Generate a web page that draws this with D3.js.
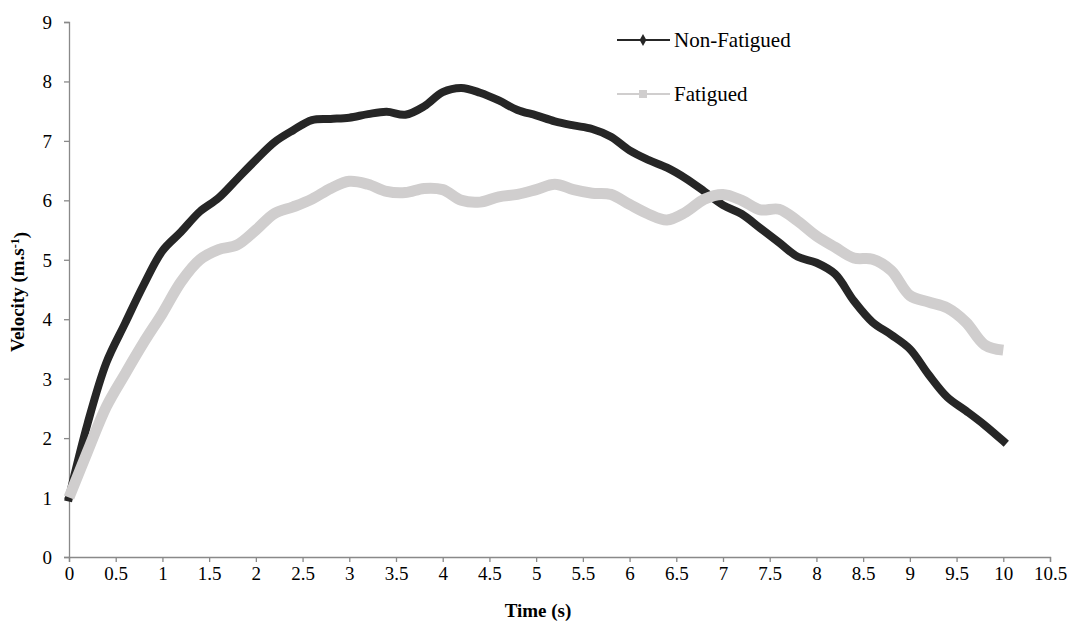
<!DOCTYPE html>
<html>
<head>
  <meta charset="utf-8">
  <script src="https://d3js.org/d3.v7.min.js"></script>
  <style>
    body { margin: 0; background: #fff; }
    svg text { font-family: "Times New Roman", Times, "Liberation Serif", Tinos, "DejaVu Serif", serif; fill: #000; }
  </style>
</head>
<body>
<script>
  var serif = "'Times New Roman', Times, 'Liberation Serif', Tinos, 'DejaVu Serif', serif";

  // time samples (s), every 0.2 s
  var times = d3.range(0, 51).map(function (i) { return +(i * 0.2).toFixed(1); });

  var nonFatigued = [1.00, 2.25, 3.27, 3.93, 4.58, 5.15, 5.47, 5.81, 6.04, 6.36,
    6.68, 6.98, 7.18, 7.35, 7.37, 7.39, 7.45, 7.49, 7.44, 7.58,
    7.82, 7.89, 7.81, 7.68, 7.52, 7.43, 7.33, 7.26, 7.20, 7.07,
    6.84, 6.68, 6.55, 6.37, 6.15, 5.92, 5.77, 5.53, 5.29, 5.05,
    4.95, 4.76, 4.31, 3.95, 3.74, 3.50, 3.07, 2.69, 2.46, 2.22, 1.95];

  var fatigued = [1.00, 1.78, 2.53, 3.08, 3.61, 4.10, 4.63, 5.00, 5.17, 5.25,
    5.50, 5.78, 5.89, 6.02, 6.20, 6.32, 6.27, 6.15, 6.13, 6.20,
    6.18, 6.00, 5.97, 6.06, 6.10, 6.18, 6.27, 6.18, 6.12, 6.10,
    5.93, 5.77, 5.67, 5.80, 6.02, 6.10, 6.00, 5.84, 5.85, 5.65,
    5.40, 5.21, 5.03, 5.01, 4.82, 4.40, 4.29, 4.19, 3.95, 3.57, 3.48];

  var xTicks = d3.range(0, 22).map(function (i) { return i * 0.5; });
  var yTicks = d3.range(0, 10);

  var width = 1082, height = 625;
  var margin = {top: 22, right: 32, bottom: 68, left: 69};

  var svg = d3.select("body").append("svg")
    .attr("width", width)
    .attr("height", height);

  var x = d3.scaleLinear().domain([0, 10.5]).range([margin.left, width - margin.right]);
  var y = d3.scaleLinear().domain([0, 9]).range([height - margin.bottom, margin.top]);

  // axes
  var xAxis = svg.append("g")
    .attr("transform", "translate(0," + y(0) + ")")
    .call(d3.axisBottom(x).tickValues(xTicks).tickSize(5).tickPadding(5)
      .tickFormat(function (d) { return d; }));

  var yAxis = svg.append("g")
    .attr("transform", "translate(" + x(0) + ",0)")
    .call(d3.axisLeft(y).tickValues(yTicks).tickSize(5).tickPadding(12));

  [xAxis, yAxis].forEach(function (g) {
    g.attr("font-family", serif).attr("font-size", 19);
    g.select(".domain").attr("stroke", "#898989").attr("stroke-width", 1.3);
    g.selectAll(".tick line").attr("stroke", "#898989").attr("stroke-width", 1.3);
    g.selectAll(".tick text")
      .style("font-family", serif)
      .style("font-size", "19px")
      .attr("fill", "#000");
  });
  yAxis.selectAll(".tick text").attr("dy", "0.34em");

  // lines
  var line = function (vals) {
    return d3.line()
      .x(function (d, i) { return x(times[i]); })
      .y(function (d) { return y(d); })
      .curve(d3.curveCatmullRom.alpha(0.5))(vals);
  };

  svg.append("path")
    .attr("d", line(nonFatigued))
    .attr("fill", "none")
    .attr("stroke", "#262626")
    .attr("stroke-width", 8)
    .attr("stroke-linejoin", "round")
    .attr("stroke-linecap", "square");

  svg.append("path")
    .attr("d", line(fatigued))
    .attr("fill", "none")
    .attr("stroke", "#d0cece")
    .attr("stroke-width", 11)
    .attr("stroke-linejoin", "round")
    .attr("stroke-linecap", "butt");

  // axis titles
  svg.append("text")
    .attr("x", 538)
    .attr("y", 617)
    .attr("text-anchor", "middle")
    .style("font-family", serif)
    .style("font-size", "19px")
    .style("font-weight", "bold")
    .text("Time (s)");

  var yt = svg.append("text")
    .attr("transform", "translate(24,292) rotate(-90)")
    .attr("text-anchor", "middle")
    .style("font-family", serif)
    .style("font-size", "19px")
    .style("font-weight", "bold");
  yt.append("tspan").text("Velocity (m.s");
  yt.append("tspan").attr("dy", "-0.45em").style("font-size", "12px").text("-1");
  yt.append("tspan").attr("dy", "0.45em").text(")");

  // legend
  var legend = [
    {name: "Non-Fatigued", color: "#262626", shape: d3.symbolDiamond, y: 40},
    {name: "Fatigued", color: "#d0cece", shape: d3.symbolSquare, y: 94}
  ];
  var lg = svg.append("g").selectAll("g").data(legend).enter().append("g");
  lg.append("line")
    .attr("x1", 617).attr("x2", 670)
    .attr("y1", function (d) { return d.y; }).attr("y2", function (d) { return d.y; })
    .attr("stroke", function (d) { return d.color; })
    .attr("stroke-width", 2.2);
  lg.append("path")
    .attr("transform", function (d) { return "translate(643," + d.y + ")"; })
    .attr("d", function (d) { return d3.symbol().type(d.shape).size(d.shape === d3.symbolSquare ? 64 : 40)(); })
    .attr("fill", function (d) { return d.color; });
  lg.append("text")
    .attr("x", 674)
    .attr("y", function (d) { return d.y; })
    .attr("dy", "0.33em")
    .style("font-family", serif)
    .style("font-size", "21px")
    .text(function (d) { return d.name; });
</script>
</body>
</html>
